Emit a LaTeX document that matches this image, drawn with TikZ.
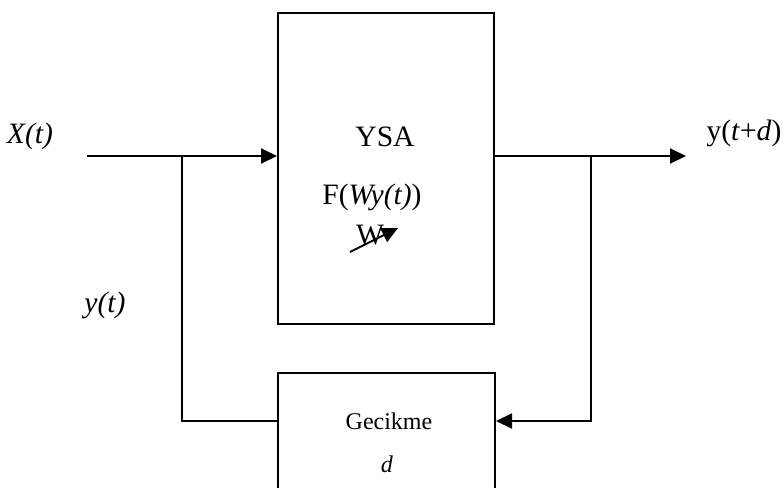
\documentclass[tikz,border=0pt]{standalone}
\usepackage{fontspec}
\setmainfont{Liberation Serif}
\usetikzlibrary{arrows.meta, positioning}

\begin{document}
\begin{tikzpicture}[
  x=0.5pt, y=-0.5pt,
  font=\fontsize{14.8}{17}\selectfont,
  line width=1pt,
  arr/.style={-{Triangle[length=8pt, width=7.5pt]}},
  blk/.style={rectangle, draw=black, line width=1pt, inner sep=0pt},
  lbl/.style={inner sep=0pt},
  small/.style={lbl, font=\fontsize{12}{14}\selectfont},
]
\useasboundingbox (0,0) rectangle (784,488);
\clip (0,0) rectangle (784,488);

% blocks
\node[blk, minimum width=108pt, minimum height=155.5pt] (ysa) at (386,168) {};
\node[blk, minimum width=108.5pt, minimum height=80pt]  (gec) at (386.5,453) {};

% block texts
\node[lbl] (ysat) at (385,137) {YSA};
\node[lbl] (fw)   at (372,197) {F(\textit{Wy(t)})};
\node[lbl] (w)    at (370,235) {W};
\draw[arr] (350,252) -- (398,228);
\node[small] (gect) at (389,421) {Gecikme};
\node[small] (d)    at (387,464) {\textit{d}};

% signals
\node[lbl] (x)    at (30,136)  {\textit{X(t)}};
\node[lbl] (yt)   at (105,305) {\textit{y(t)}};
\node[lbl] (yout) at (744,133) {y(\textit{t}+\textit{d})};

\coordinate (xin) at (87,156);
\coordinate (j1)  at (182,156);
\coordinate (j2)  at (591,156);
\coordinate (out) at (686,156);
\coordinate (fb)  at (591,421);

% connectors
\draw[arr] (xin) -- (xin -| ysa.west);
\draw[arr] (xin -| ysa.east) -- (out);
\draw (j1) |- (fb -| gec.west);
\draw[arr] (j2) -- (fb) -- (fb -| gec.east);

\end{tikzpicture}
\end{document}
